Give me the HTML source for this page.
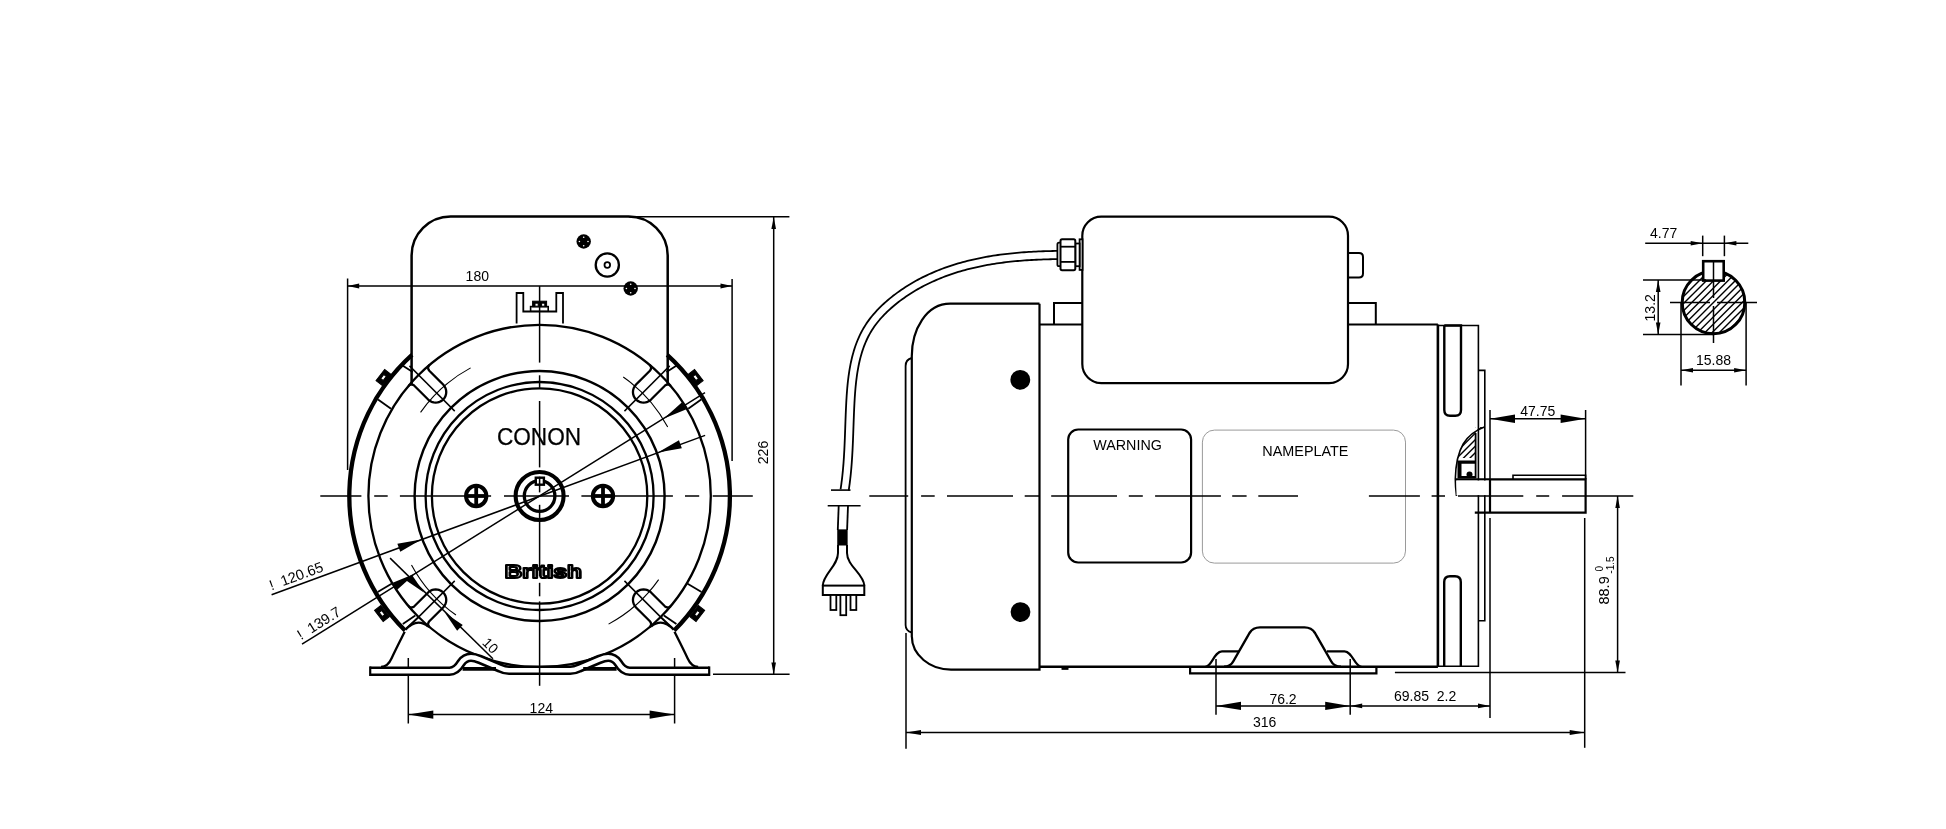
<!DOCTYPE html>
<html><head><meta charset="utf-8"><style>
html,body{margin:0;padding:0;background:#fff;}
svg{display:block;will-change:transform;}
text{font-family:"Liberation Sans",sans-serif;fill:#000;stroke:none;}
</style></head><body>
<svg width="1946" height="829" viewBox="0 0 1946 829" fill="none" stroke="#000" stroke-linecap="butt">
<path d="M411.6,384.5 V255.5 A39,39 0 0 1 450.6,216.6 H628.7 A39,39 0 0 1 667.7,255.5 V384.5" stroke-width="2.5" />
<line x1="628.7" y1="216.7" x2="789.4" y2="216.7" stroke-width="1.5" />
<circle cx="583.7" cy="241.5" r="7.2" stroke-width="0" fill="#000" stroke="none"/>
<circle cx="588" cy="241.5" r="0.8" fill="#fff" stroke="none"/>
<circle cx="579.4" cy="241.5" r="0.8" fill="#fff" stroke="none"/>
<circle cx="583.7" cy="245.8" r="0.8" fill="#fff" stroke="none"/>
<circle cx="583.7" cy="237.2" r="0.8" fill="#fff" stroke="none"/>
<circle cx="630.7" cy="288.5" r="7.2" stroke-width="0" fill="#000" stroke="none"/>
<circle cx="635" cy="288.5" r="0.8" fill="#fff" stroke="none"/>
<circle cx="626.4" cy="288.5" r="0.8" fill="#fff" stroke="none"/>
<circle cx="630.7" cy="292.8" r="0.8" fill="#fff" stroke="none"/>
<circle cx="630.7" cy="284.2" r="0.8" fill="#fff" stroke="none"/>
<circle cx="607.3" cy="265" r="11.6" stroke-width="2.3" fill="none" />
<circle cx="607.3" cy="265" r="2.8" stroke-width="1.8" fill="none" />
<path d="M516.6,323.5 V293 H523.3 V311.5 H556.3 V293 H563 V323.5" stroke-width="1.8" />
<rect x="530.6" y="306.6" width="17.6" height="4.6" fill="#fff" stroke="#000" stroke-width="1.6"/>
<rect x="532.6" y="301.2" width="14" height="5.6" fill="#000"/>
<rect x="535" y="303.2" width="3.2" height="3" fill="#fff"/>
<rect x="541.6" y="303.2" width="3.2" height="3" fill="#fff"/>
<circle cx="539.6" cy="496" r="107.7" stroke-width="2.3" fill="none" />
<circle cx="539.6" cy="496" r="114" stroke-width="2.3" fill="none" />
<circle cx="539.6" cy="496" r="125" stroke-width="2.4" fill="none" />
<circle cx="539.6" cy="496" r="171.2" stroke-width="2.3" fill="none" />
<path d="M649.62,364.83 L650.2,365.43 L650.64,366.13 L650.93,366.91 L651.05,367.72 L651,368.55 L650.78,369.35 L650.4,370.09 L649.88,370.73 L636.05,384.56 L634.73,386.17 L633.75,388 L633.15,389.99 L632.94,392.06 L633.15,394.12 L633.75,396.11 L634.73,397.94 L636.05,399.55 L637.66,400.87 L639.49,401.85 L641.48,402.45 L643.54,402.66 L645.61,402.45 L647.6,401.85 L649.43,400.87 L651.04,399.55 L664.87,385.72 L665.51,385.2 L666.25,384.82 L667.05,384.6 L667.88,384.55 L668.69,384.67 L669.47,384.96 L670.17,385.4 L670.77,385.98" stroke-width="2.3" stroke-linejoin="round"/>
<path d="M408.43,385.98 L409.03,385.4 L409.73,384.96 L410.51,384.67 L411.32,384.55 L412.15,384.6 L412.95,384.82 L413.69,385.2 L414.33,385.72 L428.16,399.55 L429.77,400.87 L431.6,401.85 L433.59,402.45 L435.66,402.66 L437.72,402.45 L439.71,401.85 L441.54,400.87 L443.15,399.55 L444.47,397.94 L445.45,396.11 L446.05,394.12 L446.26,392.06 L446.05,389.99 L445.45,388 L444.47,386.17 L443.15,384.56 L429.32,370.73 L428.8,370.09 L428.42,369.35 L428.2,368.55 L428.15,367.72 L428.27,366.91 L428.56,366.13 L429,365.43 L429.58,364.83" stroke-width="2.3" stroke-linejoin="round"/>
<path d="M429.58,627.17 L429,626.57 L428.56,625.87 L428.27,625.09 L428.15,624.28 L428.2,623.45 L428.42,622.65 L428.8,621.91 L429.32,621.27 L443.15,607.44 L444.47,605.83 L445.45,604 L446.05,602.01 L446.26,599.94 L446.05,597.88 L445.45,595.89 L444.47,594.06 L443.15,592.45 L441.54,591.13 L439.71,590.15 L437.72,589.55 L435.66,589.34 L433.59,589.55 L431.6,590.15 L429.77,591.13 L428.16,592.45 L414.33,606.28 L413.69,606.8 L412.95,607.18 L412.15,607.4 L411.32,607.45 L410.51,607.33 L409.73,607.04 L409.03,606.6 L408.43,606.02" stroke-width="2.3" stroke-linejoin="round"/>
<path d="M670.77,606.02 L670.17,606.6 L669.47,607.04 L668.69,607.33 L667.88,607.45 L667.05,607.4 L666.25,607.18 L665.51,606.8 L664.87,606.28 L651.04,592.45 L649.43,591.13 L647.6,590.15 L645.61,589.55 L643.54,589.34 L641.48,589.55 L639.49,590.15 L637.66,591.13 L636.05,592.45 L634.73,594.06 L633.75,595.89 L633.15,597.88 L632.94,599.94 L633.15,602.01 L633.75,604 L634.73,605.83 L636.05,607.44 L649.88,621.27 L650.4,621.91 L650.78,622.65 L651,623.45 L651.05,624.28 L650.93,625.09 L650.64,625.87 L650.2,626.57 L649.62,627.17" stroke-width="2.3" stroke-linejoin="round"/>
<line x1="624.45" y1="411.15" x2="669.71" y2="365.89" stroke-width="1.5" />
<path d="M667.71,427.02 A145.5,145.5 0 0 0 623.26,376.96" stroke-width="1.1" />
<line x1="454.75" y1="411.15" x2="409.49" y2="365.89" stroke-width="1.5" />
<path d="M470.62,367.89 A145.5,145.5 0 0 0 420.56,412.34" stroke-width="1.1" />
<line x1="454.75" y1="580.85" x2="409.49" y2="626.11" stroke-width="1.5" />
<path d="M411.49,564.98 A145.5,145.5 0 0 0 455.94,615.04" stroke-width="1.1" />
<line x1="624.45" y1="580.85" x2="669.71" y2="626.11" stroke-width="1.5" />
<path d="M608.58,624.11 A145.5,145.5 0 0 0 658.64,579.66" stroke-width="1.1" />
<path d="M412.02,354.8 A190.3,190.3 0 0 0 405.04,630.56" stroke-width="4.3" />
<path d="M674.16,630.56 A190.3,190.3 0 0 0 667.18,354.8" stroke-width="4.3" />
<line x1="401.7" y1="365.1" x2="412.7" y2="372" stroke-width="1.8" />
<line x1="677.5" y1="365.1" x2="666.5" y2="372" stroke-width="1.8" />
<line x1="378" y1="399.5" x2="391" y2="408.7" stroke-width="1.8" />
<line x1="701.2" y1="399.5" x2="688.2" y2="408.7" stroke-width="1.8" />
<line x1="377.7" y1="592" x2="392" y2="583.5" stroke-width="1.8" />
<line x1="701.5" y1="592" x2="687.2" y2="583.5" stroke-width="1.8" />
<line x1="402.8" y1="624.1" x2="415.3" y2="615.4" stroke-width="1.8" />
<line x1="676.4" y1="624.1" x2="663.9" y2="615.4" stroke-width="1.8" />
<line x1="405.7" y1="628.9" x2="418.2" y2="617.4" stroke-width="1.8" />
<line x1="673.5" y1="628.9" x2="661" y2="617.4" stroke-width="1.8" />
<g transform="translate(383.5,377.5) rotate(-52)"><rect x="-7" y="-4" width="14" height="8" fill="#000"/><rect x="-2.5" y="-1.6" width="5" height="3.2" fill="#fff"/></g>
<g transform="translate(382,613.5) rotate(52)"><rect x="-7" y="-4" width="14" height="8" fill="#000"/><rect x="-2.5" y="-1.6" width="5" height="3.2" fill="#fff"/></g>
<g transform="translate(695.7,377.5) rotate(52)"><rect x="-7" y="-4" width="14" height="8" fill="#000"/><rect x="-2.5" y="-1.6" width="5" height="3.2" fill="#fff"/></g>
<g transform="translate(697.2,613.5) rotate(-52)"><rect x="-7" y="-4" width="14" height="8" fill="#000"/><rect x="-2.5" y="-1.6" width="5" height="3.2" fill="#fff"/></g>
<circle cx="539.6" cy="496" r="24" stroke-width="4.1" fill="none" />
<circle cx="539.6" cy="496" r="15.3" stroke-width="3.3" fill="none" />
<rect x="535.8" y="477.7" width="8.1" height="7" fill="#fff" stroke="#000" stroke-width="2.4"/>
<circle cx="476.2" cy="496" r="10.2" stroke-width="4.0" fill="none" />
<line x1="465.7" y1="496" x2="486.7" y2="496" stroke-width="3.8" />
<line x1="476.2" y1="485.5" x2="476.2" y2="506.5" stroke-width="3.8" />
<circle cx="603" cy="496" r="10.2" stroke-width="4.0" fill="none" />
<line x1="592.5" y1="496" x2="613.5" y2="496" stroke-width="3.8" />
<line x1="603" y1="485.5" x2="603" y2="506.5" stroke-width="3.8" />
<text x="496.9" y="445.2" font-size="23.2" textLength="84.2" lengthAdjust="spacingAndGlyphs" style="stroke:#000;stroke-width:0.25">CONON</text>
<text x="504.8" y="577.6" font-size="18.5" font-weight="bold" textLength="77" lengthAdjust="spacingAndGlyphs" style="fill:#fff;stroke:#000;stroke-width:2.1;stroke-linejoin:round">British</text>
<line x1="408.3" y1="658" x2="408.3" y2="723.5" stroke-width="1.5" />
<line x1="674.6" y1="658" x2="674.6" y2="723.5" stroke-width="1.5" />
<path d="M404.7,631.8 C400.5,640 395,651 391.5,658.5 C389.5,663 386.5,666.8 381,666.8" stroke-width="2.3" />
<path d="M405.5,629.8 C409.5,625.5 413.5,622.6 418.5,622.6 C422.5,622.6 425.5,624.3 428.2,626.6" stroke-width="2.3" />
<path d="M674.5,631.8 C678.7,640 684.2,651 687.7,658.5 C689.7,663 692.7,666.8 698.2,666.8" stroke-width="2.3" />
<path d="M673.7,629.8 C669.7,625.5 665.7,622.6 660.7,622.6 C656.7,622.6 653.7,624.3 651,626.6" stroke-width="2.3" />
<path d="M370.2,671.2 H449.5 C455,671.2 458,668 461,663 C464,658.5 467,657.3 471,657.3 C474,657.3 477,658.3 480,659.5 L500,668 C503,669.5 505,670.3 509,670.3 H570.2 C574.2,670.3 576.2,669.5 579.2,668 L599.2,659.5 C602.2,658.3 605.2,657.3 608.2,657.3 C612.2,657.3 615.2,658.5 618.2,663 C621.2,668 624.2,671.2 629.7,671.2 H709.2" stroke-width="9.6" stroke-linejoin="round"/>
<path d="M370.2,671.2 H449.5 C455,671.2 458,668 461,663 C464,658.5 467,657.3 471,657.3 C474,657.3 477,658.3 480,659.5 L500,668 C503,669.5 505,670.3 509,670.3 H570.2 C574.2,670.3 576.2,669.5 579.2,668 L599.2,659.5 C602.2,658.3 605.2,657.3 608.2,657.3 C612.2,657.3 615.2,658.5 618.2,663 C621.2,668 624.2,671.2 629.7,671.2 H709.2" stroke-width="4.4" stroke="#fff" stroke-linejoin="round"/>
<line x1="370.2" y1="666.4" x2="370.2" y2="676" stroke-width="2.2" />
<line x1="709.2" y1="666.4" x2="709.2" y2="676" stroke-width="2.2" />
<line x1="462.6" y1="668.9" x2="496" y2="668.9" stroke-width="3.6" />
<line x1="583.2" y1="668.9" x2="616.6" y2="668.9" stroke-width="3.6" />
<line x1="320.3" y1="496" x2="361.4" y2="496" stroke-width="1.5" />
<line x1="374.2" y1="496" x2="387.7" y2="496" stroke-width="1.5" />
<line x1="399.9" y1="496" x2="491.1" y2="496" stroke-width="1.5" />
<line x1="504" y1="496" x2="569" y2="496" stroke-width="1.5" />
<line x1="581.4" y1="496" x2="672.9" y2="496" stroke-width="1.5" />
<line x1="685" y1="496" x2="699.2" y2="496" stroke-width="1.5" />
<line x1="712.7" y1="496" x2="752.8" y2="496" stroke-width="1.5" />
<line x1="539.6" y1="286.1" x2="539.6" y2="362.6" stroke-width="1.5" />
<line x1="539.6" y1="375.3" x2="539.6" y2="387.8" stroke-width="1.5" />
<line x1="539.6" y1="401" x2="539.6" y2="467.4" stroke-width="1.5" />
<line x1="539.6" y1="476.7" x2="539.6" y2="492.4" stroke-width="1.5" />
<line x1="539.6" y1="504.8" x2="539.6" y2="576" stroke-width="1.5" />
<line x1="539.6" y1="582.8" x2="539.6" y2="596.3" stroke-width="1.5" />
<line x1="539.6" y1="601.4" x2="539.6" y2="685.8" stroke-width="1.5" />
<line x1="347.6" y1="278.5" x2="347.6" y2="470" stroke-width="1.5" />
<line x1="732.1" y1="279" x2="732.1" y2="461" stroke-width="1.5" />
<line x1="347.6" y1="286.1" x2="732.1" y2="286.1" stroke-width="1.5" />
<path d="M347.6,286.1 L359.2,288.6 L359.2,283.6 Z" fill="#000" stroke="none"/>
<path d="M732.1,286.1 L720.5,283.6 L720.5,288.6 Z" fill="#000" stroke="none"/>
<text x="477.3" y="280.7" font-size="14" text-anchor="middle" >180</text>
<line x1="773.7" y1="216.9" x2="773.7" y2="674.5" stroke-width="1.5" />
<path d="M773.7,216.9 L771.4,228.9 L776,228.9 Z" fill="#000" stroke="none"/>
<path d="M773.7,674.5 L776,662.5 L771.4,662.5 Z" fill="#000" stroke="none"/>
<line x1="713" y1="674.3" x2="789.6" y2="674.3" stroke-width="1.5" />
<text x="768" y="452.5" font-size="14" text-anchor="middle" transform="rotate(-90 768 452.5)" >226</text>
<line x1="408.3" y1="714.6" x2="674.6" y2="714.6" stroke-width="1.5" />
<path d="M408.3,714.6 L433.3,718.8 L433.3,710.4 Z" fill="#000" stroke="none"/>
<path d="M674.6,714.6 L649.6,710.4 L649.6,718.8 Z" fill="#000" stroke="none"/>
<text x="541.3" y="712.5" font-size="14" text-anchor="middle" >124</text>
<line x1="271.6" y1="594.7" x2="705.1" y2="435.4" stroke-width="1.5" />
<line x1="302" y1="644.2" x2="705" y2="392.7" stroke-width="1.5" />
<path d="M421.33,539.46 L397.36,543.8 L400.25,551.68 Z" fill="#000" stroke="none"/>
<path d="M657.87,452.54 L681.84,448.2 L678.95,440.32 Z" fill="#000" stroke="none"/>
<path d="M415.32,573.56 L392.73,582.7 L397.18,589.83 Z" fill="#000" stroke="none"/>
<path d="M663.88,418.44 L686.47,409.3 L682.02,402.17 Z" fill="#000" stroke="none"/>
<text x="271.4" y="590.4" font-size="14.5" text-anchor="start" transform="rotate(-20.17707007142586 271.4 590.4)" >!&#160;&#160;120.65</text>
<text x="300.9" y="640.2" font-size="14.5" text-anchor="start" transform="rotate(-31.96702834634886 300.9 640.2)" >!&#160;&#160;139.7</text>
<line x1="390.1" y1="558.1" x2="492.9" y2="658.7" stroke-width="1.5" />
<path d="M423.9,592.5 L411.88,574.82 L406.22,580.48 Z" fill="#000" stroke="none"/>
<path d="M445.1,613.1 L457.12,630.78 L462.78,625.12 Z" fill="#000" stroke="none"/>
<text x="481.6" y="643.4" font-size="14" text-anchor="start" transform="rotate(45 481.6 643.4)" >10</text>
<path d="M1039.5,303.7 H950.2 C926,303.7 911.8,330 911.8,356 V636 C911.8,655 930,669.7 951,669.7 H1039.5 V303.7" stroke-width="2.2" />
<path d="M911.8,358 C907.5,359 905.6,362 905.6,366 V625 C905.6,629 907.5,631.5 911.8,632.5" stroke-width="1.8" />
<circle cx="1020.3" cy="379.8" r="9.9" stroke-width="0" fill="#000" stroke="none"/>
<circle cx="1020.5" cy="612.1" r="9.9" stroke-width="0" fill="#000" stroke="none"/>
<line x1="1039.5" y1="324.5" x2="1437.9" y2="324.5" stroke-width="2.2" />
<line x1="1039.5" y1="666.8" x2="1437.9" y2="666.8" stroke-width="2.4" />
<line x1="1437.9" y1="324.5" x2="1437.9" y2="666.8" stroke-width="2.6" />
<path d="M1054,324.5 V302.9 H1082.3" stroke-width="2" />
<path d="M1348,302.9 H1375.8 V324.5" stroke-width="2" />
<rect x="1082.3" y="216.7" width="265.7" height="166.4" rx="19" ry="19" fill="#fff" stroke-width="2.2"/>
<path d="M1348,253 H1359 Q1363,253 1363,257 V273.5 Q1363,277.5 1359,277.5 H1348" stroke-width="2" />
<rect x="1079.6" y="239.3" width="2.9" height="30.6" fill="#fff" stroke="#000" stroke-width="1.8"/>
<rect x="1075.3" y="243.5" width="4.3" height="22.7" fill="#fff" stroke="#000" stroke-width="1.8"/>
<rect x="1060.5" y="239.3" width="14.8" height="30.9" rx="1.6" fill="#fff" stroke="#000" stroke-width="2"/>
<line x1="1060.5" y1="246.7" x2="1075.3" y2="246.7" stroke-width="1.8" />
<line x1="1060.5" y1="261.9" x2="1075.3" y2="261.9" stroke-width="1.8" />
<path d="M1060.5,242.7 H1059 Q1057.4,242.7 1057.4,244.5 V264.4 Q1057.4,266.2 1059,266.2 H1060.5" stroke-width="1.8" />
<path d="M1057.36,250.93 L1055.00,250.96 L1052.63,251.00 L1050.26,251.05 L1047.88,251.10 L1045.51,251.17 L1043.13,251.25 L1040.75,251.34 L1038.37,251.43 L1035.98,251.54 L1033.60,251.66 L1031.22,251.79 L1028.83,251.93 L1026.45,252.09 L1024.06,252.25 L1021.68,252.43 L1019.29,252.63 L1016.91,252.83 L1014.52,253.05 L1012.14,253.29 L1009.76,253.54 L1007.38,253.80 L1005.00,254.08 L1002.63,254.38 L1000.25,254.69 L997.88,255.01 L995.51,255.36 L993.14,255.72 L990.78,256.10 L988.42,256.50 L986.06,256.91 L983.71,257.35 L981.36,257.80 L979.01,258.27 L976.67,258.76 L974.34,259.28 L972.00,259.81 L969.68,260.36 L967.36,260.94 L965.04,261.53 L962.73,262.15 L960.43,262.79 L958.13,263.45 L955.84,264.14 L953.55,264.85 L951.27,265.58 L949.00,266.34 L946.74,267.12 L944.48,267.92 L942.24,268.76 L940.00,269.61 L937.77,270.50 L935.54,271.41 L933.33,272.34 L931.12,273.30 L928.93,274.29 L926.74,275.31 L924.57,276.36 L922.40,277.43 L920.25,278.54 L918.10,279.67 L915.97,280.83 L913.84,282.02 L911.73,283.24 L909.64,284.49 L907.55,285.77 L905.49,287.09 L903.44,288.43 L901.40,289.80 L899.39,291.20 L897.39,292.63 L895.41,294.10 L893.45,295.59 L891.52,297.11 L889.60,298.67 L887.71,300.25 L885.84,301.87 L884.00,303.52 L882.19,305.21 L880.41,306.92 L878.66,308.67 L876.95,310.45 L875.28,312.27 L873.65,314.12 L872.07,316.00 L870.53,317.92 L869.04,319.87 L867.60,321.85 L866.22,323.87 L864.90,325.93 L863.63,328.01 L862.43,330.12 L861.29,332.25 L860.20,334.41 L859.17,336.59 L858.20,338.80 L857.27,341.02 L856.40,343.27 L855.57,345.53 L854.80,347.81 L854.06,350.11 L853.38,352.42 L852.73,354.75 L852.13,357.09 L851.56,359.44 L851.03,361.81 L850.54,364.18 L850.08,366.56 L849.66,368.96 L849.26,371.36 L848.90,373.76 L848.56,376.17 L848.25,378.59 L847.96,381.01 L847.70,383.43 L847.46,385.85 L847.24,388.28 L847.04,390.70 L846.85,393.12 L846.68,395.55 L846.53,397.96 L846.38,400.38 L846.25,402.78 L846.13,405.19 L846.01,407.58 L845.90,409.97 L845.80,412.36 L845.70,414.74 L845.61,417.11 L845.52,419.48 L845.44,421.84 L845.35,424.20 L845.27,426.55 L845.19,428.91 L845.10,431.25 L845.02,433.60 L844.93,435.94 L844.85,438.27 L844.75,440.61 L844.65,442.94 L844.55,445.27 L844.44,447.60 L844.33,449.93 L844.20,452.25 L844.07,454.57 L843.93,456.90 L843.78,459.22 L843.62,461.54 L843.45,463.86 L843.26,466.19 L843.06,468.51 L842.85,470.83 L842.62,473.16 L842.38,475.48 L842.12,477.81 L841.84,480.14 L841.54,482.47 L841.23,484.80 L840.90,487.14 L840.55,489.48" stroke-width="1.8" stroke-linejoin="round"/>
<path d="M1057.46,259.12 L1055.12,259.16 L1052.78,259.20 L1050.44,259.24 L1048.10,259.30 L1045.75,259.37 L1043.41,259.44 L1041.07,259.53 L1038.72,259.63 L1036.37,259.73 L1034.03,259.85 L1031.68,259.98 L1029.34,260.12 L1027.00,260.27 L1024.66,260.43 L1022.31,260.61 L1019.98,260.80 L1017.64,261.00 L1015.30,261.22 L1012.97,261.45 L1010.64,261.69 L1008.31,261.95 L1005.99,262.22 L1003.66,262.51 L1001.35,262.81 L999.03,263.13 L996.72,263.47 L994.41,263.82 L992.11,264.19 L989.81,264.58 L987.52,264.98 L985.23,265.40 L982.94,265.84 L980.67,266.30 L978.39,266.78 L976.13,267.28 L973.87,267.79 L971.61,268.33 L969.36,268.89 L967.12,269.46 L964.89,270.06 L962.66,270.68 L960.44,271.32 L958.23,271.98 L956.02,272.67 L953.83,273.37 L951.64,274.10 L949.46,274.86 L947.29,275.63 L945.12,276.43 L942.97,277.26 L940.83,278.10 L938.69,278.98 L936.57,279.88 L934.45,280.80 L932.34,281.75 L930.25,282.72 L928.16,283.73 L926.09,284.76 L924.03,285.81 L921.97,286.89 L919.93,288.01 L917.90,289.14 L915.89,290.31 L913.89,291.51 L911.90,292.73 L909.93,293.98 L907.97,295.26 L906.03,296.56 L904.12,297.90 L902.21,299.26 L900.33,300.65 L898.47,302.07 L896.64,303.52 L894.82,304.99 L893.03,306.49 L891.27,308.02 L889.53,309.58 L887.83,311.16 L886.15,312.77 L884.52,314.41 L882.93,316.07 L881.37,317.76 L879.86,319.47 L878.40,321.21 L876.98,322.97 L875.62,324.76 L874.31,326.57 L873.05,328.41 L871.85,330.27 L870.70,332.16 L869.61,334.08 L868.57,336.03 L867.57,338.00 L866.63,340.00 L865.73,342.03 L864.88,344.08 L864.07,346.16 L863.31,348.26 L862.58,350.38 L861.90,352.52 L861.26,354.69 L860.65,356.87 L860.08,359.07 L859.55,361.29 L859.05,363.53 L858.58,365.79 L858.15,368.06 L857.74,370.34 L857.36,372.63 L857.01,374.94 L856.69,377.26 L856.39,379.59 L856.11,381.93 L855.86,384.28 L855.62,386.63 L855.41,388.99 L855.21,391.35 L855.03,393.72 L854.86,396.10 L854.71,398.47 L854.57,400.84 L854.44,403.22 L854.32,405.59 L854.20,407.96 L854.10,410.33 L853.99,412.70 L853.90,415.06 L853.81,417.42 L853.72,419.78 L853.63,422.14 L853.55,424.49 L853.47,426.84 L853.38,429.19 L853.30,431.54 L853.22,433.89 L853.13,436.24 L853.04,438.59 L852.95,440.94 L852.85,443.29 L852.74,445.64 L852.63,447.99 L852.52,450.35 L852.39,452.70 L852.26,455.05 L852.12,457.41 L851.96,459.77 L851.80,462.13 L851.62,464.50 L851.43,466.86 L851.23,469.23 L851.01,471.61 L850.78,473.98 L850.53,476.36 L850.26,478.75 L849.98,481.14 L849.68,483.53 L849.35,485.93 L849.01,488.33 L848.65,490.74" stroke-width="1.8" stroke-linejoin="round"/>
<line x1="831" y1="490.1" x2="850.5" y2="490.1" stroke-width="1.6" />
<line x1="827.7" y1="505.7" x2="860.6" y2="505.7" stroke-width="1.6" />
<line x1="838.7" y1="505.7" x2="837.8" y2="530" stroke-width="1.8" />
<line x1="848" y1="505.7" x2="847.1" y2="530" stroke-width="1.8" />
<rect x="837.8" y="529.9" width="9.3" height="15.1" fill="#000"/>
<path d="M838,545 V553 C838,566 823,574 822.8,585.6 M847,545 V553 C847,566 864,574 864.3,585.6" stroke-width="2" />
<rect x="822.8" y="585.6" width="41.5" height="9.4" fill="#fff" stroke="#000" stroke-width="2"/>
<rect x="830.5" y="595" width="5.8" height="15" fill="#fff" stroke="#000" stroke-width="1.8"/>
<rect x="840.4" y="595" width="5.8" height="20.2" fill="#fff" stroke="#000" stroke-width="1.8"/>
<rect x="850.5" y="595" width="5.8" height="15" fill="#fff" stroke="#000" stroke-width="1.8"/>
<rect x="1068.2" y="429.5" width="122.9" height="133" rx="10" ry="10" fill="none" stroke-width="2.2"/>
<text x="1127.6" y="450" font-size="14.3" text-anchor="middle" >WARNING</text>
<rect x="1202.4" y="430.1" width="203.1" height="133" rx="12" ry="12" fill="none" stroke="#9a9a9a" stroke-width="1"/>
<text x="1305.4" y="455.9" font-size="14.4" text-anchor="middle" >NAMEPLATE</text>
<path d="M1437.9,325.5 H1478.4 V666.3 H1437.9" stroke-width="1.6" />
<path d="M1444.3,325.5 V410 Q1444.3,415.8 1450,415.8 H1455.3 Q1461,415.8 1461,410 V325.5 H1444.3" stroke-width="2.4" />
<path d="M1444.2,666.3 V582 Q1444.2,576.2 1450,576.2 H1455 Q1460.8,576.2 1460.8,582 V666.3" stroke-width="2.4" />
<path d="M1478.4,370.4 H1484.8 V620.8 H1478.4" stroke-width="1.6" />
<defs><clipPath id="capc"><path d="M1484.3,427 C1466,434 1456,448 1455.3,479 L1475.6,479 L1475.6,427 Z"/></clipPath></defs>
<g clip-path="url(#capc)"><line x1="1526" y1="415" x2="1466" y2="475" stroke-width="1.3"/><line x1="1519.5" y1="415" x2="1459.5" y2="475" stroke-width="1.3"/><line x1="1513" y1="415" x2="1453" y2="475" stroke-width="1.3"/><line x1="1506.5" y1="415" x2="1446.5" y2="475" stroke-width="1.3"/><line x1="1500" y1="415" x2="1440" y2="475" stroke-width="1.3"/><line x1="1493.5" y1="415" x2="1433.5" y2="475" stroke-width="1.3"/><line x1="1487" y1="415" x2="1427" y2="475" stroke-width="1.3"/><line x1="1480.5" y1="415" x2="1420.5" y2="475" stroke-width="1.3"/><line x1="1474" y1="415" x2="1414" y2="475" stroke-width="1.3"/><line x1="1467.5" y1="415" x2="1407.5" y2="475" stroke-width="1.3"/><line x1="1461" y1="415" x2="1401" y2="475" stroke-width="1.3"/><line x1="1454.5" y1="415" x2="1394.5" y2="475" stroke-width="1.3"/><line x1="1448" y1="415" x2="1388" y2="475" stroke-width="1.3"/><line x1="1441.5" y1="415" x2="1381.5" y2="475" stroke-width="1.3"/><line x1="1435" y1="415" x2="1375" y2="475" stroke-width="1.3"/><line x1="1428.5" y1="415" x2="1368.5" y2="475" stroke-width="1.3"/><rect x="1450" y="458" width="30" height="22" fill="#fff" stroke="none"/></g>
<path d="M1484.3,427 C1466,434 1456,448 1455.3,479 C1455.3,486 1456,492 1456.5,496" stroke-width="1.6" />
<line x1="1475.6" y1="433" x2="1475.6" y2="478.5" stroke-width="1.8" />
<path d="M1457.5,460.5 H1475 V463.8 H1461.5 V476 H1475 V478.5 H1457.5 Z" fill="#000" stroke="none"/>
<circle cx="1469.5" cy="474.5" r="3" fill="#000" stroke="none"/>
<path d="M1455.3,479.4 H1585.6 V512.7 H1474.8" stroke-width="2.2" />
<rect x="1456.5" y="480.6" width="32.5" height="14.6" fill="#fff" stroke="none"/>
<line x1="1490" y1="479.4" x2="1490" y2="512.7" stroke-width="2.2" />
<path d="M1513,479.4 V475.2 H1585.6 V479.4" stroke-width="1.6" />
<line x1="869.3" y1="496" x2="908.2" y2="496" stroke-width="1.5" />
<line x1="921.1" y1="496" x2="934.7" y2="496" stroke-width="1.5" />
<line x1="947" y1="496" x2="1013" y2="496" stroke-width="1.5" />
<line x1="1024.7" y1="496" x2="1039.2" y2="496" stroke-width="1.5" />
<line x1="1051.2" y1="496" x2="1117" y2="496" stroke-width="1.5" />
<line x1="1128.8" y1="496" x2="1142.8" y2="496" stroke-width="1.5" />
<line x1="1155.1" y1="496" x2="1220.9" y2="496" stroke-width="1.5" />
<line x1="1232.2" y1="496" x2="1246.6" y2="496" stroke-width="1.5" />
<line x1="1258.3" y1="496" x2="1298" y2="496" stroke-width="1.5" />
<line x1="1368.9" y1="496" x2="1419.9" y2="496" stroke-width="1.5" />
<line x1="1431.6" y1="496" x2="1445" y2="496" stroke-width="1.5" />
<line x1="1458" y1="496" x2="1523.3" y2="496" stroke-width="1.5" />
<line x1="1536.2" y1="496" x2="1549.2" y2="496" stroke-width="1.5" />
<line x1="1562.1" y1="496" x2="1633.3" y2="496" stroke-width="1.5" />
<path d="M1190.1,666.8 V673.3 H1376.4 V666.8" stroke-width="2.2" />
<path d="M1205.3,666.8 C1212,666.8 1214,651.4 1222,651.4 H1239.1" stroke-width="2.2" />
<path d="M1224,666.8 Q1230.5,666.8 1233.5,661 L1249.5,633 Q1253,627.4 1260,627.4 H1304.5 Q1311.5,627.4 1315,633 L1331,661 Q1334,666.8 1341,666.8" stroke-width="2.4" />
<path d="M1327,651.4 H1344.5 C1352.5,651.4 1354.5,666.8 1361.6,666.8" stroke-width="2.2" />
<rect x="1062" y="666.8" width="6" height="2.5" fill="#000"/>
<line x1="906" y1="633" x2="906" y2="748.8" stroke-width="1.5" />
<line x1="906" y1="732.6" x2="1584.7" y2="732.6" stroke-width="1.5" />
<path d="M906,732.6 L921,735.1 L921,730.1 Z" fill="#000" stroke="none"/>
<path d="M1584.7,732.6 L1569.7,730.1 L1569.7,735.1 Z" fill="#000" stroke="none"/>
<text x="1264.6" y="727.4" font-size="14" text-anchor="middle" >316</text>
<line x1="1216" y1="659" x2="1216" y2="714.7" stroke-width="1.5" />
<line x1="1350.2" y1="659" x2="1350.2" y2="714.7" stroke-width="1.5" />
<line x1="1216" y1="705.9" x2="1490" y2="705.9" stroke-width="1.5" />
<path d="M1216,705.9 L1241,710.1 L1241,701.7 Z" fill="#000" stroke="none"/>
<path d="M1350.2,705.9 L1325.2,701.7 L1325.2,710.1 Z" fill="#000" stroke="none"/>
<path d="M1350.2,705.9 L1362.2,708.2 L1362.2,703.6 Z" fill="#000" stroke="none"/>
<path d="M1490,705.9 L1478,703.6 L1478,708.2 Z" fill="#000" stroke="none"/>
<text x="1283" y="703.7" font-size="14" text-anchor="middle" >76.2</text>
<text x="1394" y="700.8" font-size="14" text-anchor="start" >69.85&#160;&#160;2.2</text>
<line x1="1490" y1="518" x2="1490" y2="718" stroke-width="1.5" />
<line x1="1584.7" y1="518" x2="1584.7" y2="747.8" stroke-width="1.5" />
<line x1="1394.9" y1="672.5" x2="1625.5" y2="672.5" stroke-width="1.5" />
<line x1="1617.6" y1="496" x2="1617.6" y2="672.5" stroke-width="1.5" />
<path d="M1617.6,496 L1615.3,508 L1619.9,508 Z" fill="#000" stroke="none"/>
<path d="M1617.6,672.5 L1619.9,660.5 L1615.3,660.5 Z" fill="#000" stroke="none"/>
<text x="1608.6" y="590.4" font-size="14.5" text-anchor="middle" transform="rotate(-90 1608.6 590.4)" >88.9</text>
<text x="1602.9" y="568.8" font-size="10" text-anchor="middle" transform="rotate(-90 1602.9 568.8)" >0</text>
<text x="1613.5" y="565" font-size="10" text-anchor="middle" transform="rotate(-90 1613.5 565)" >-1.5</text>
<line x1="1490" y1="410" x2="1490" y2="479" stroke-width="1.5" />
<line x1="1585.6" y1="410" x2="1585.6" y2="479" stroke-width="1.5" />
<line x1="1490" y1="418.7" x2="1585.6" y2="418.7" stroke-width="1.5" />
<path d="M1490,418.7 L1515,422.9 L1515,414.5 Z" fill="#000" stroke="none"/>
<path d="M1585.6,418.7 L1560.6,414.5 L1560.6,422.9 Z" fill="#000" stroke="none"/>
<text x="1537.8" y="416.4" font-size="14" text-anchor="middle" >47.75</text>
<defs><clipPath id="shc"><circle cx="1713.5" cy="302.4" r="31.5"/></clipPath></defs>
<g clip-path="url(#shc)"><line x1="1587.1" y1="342.4" x2="1667.1" y2="262.4" stroke-width="1.4"/><line x1="1594.3" y1="342.4" x2="1674.3" y2="262.4" stroke-width="1.4"/><line x1="1601.5" y1="342.4" x2="1681.5" y2="262.4" stroke-width="1.4"/><line x1="1608.7" y1="342.4" x2="1688.7" y2="262.4" stroke-width="1.4"/><line x1="1615.9" y1="342.4" x2="1695.9" y2="262.4" stroke-width="1.4"/><line x1="1623.1" y1="342.4" x2="1703.1" y2="262.4" stroke-width="1.4"/><line x1="1630.3" y1="342.4" x2="1710.3" y2="262.4" stroke-width="1.4"/><line x1="1637.5" y1="342.4" x2="1717.5" y2="262.4" stroke-width="1.4"/><line x1="1644.7" y1="342.4" x2="1724.7" y2="262.4" stroke-width="1.4"/><line x1="1651.9" y1="342.4" x2="1731.9" y2="262.4" stroke-width="1.4"/><line x1="1659.1" y1="342.4" x2="1739.1" y2="262.4" stroke-width="1.4"/><line x1="1666.3" y1="342.4" x2="1746.3" y2="262.4" stroke-width="1.4"/><line x1="1673.5" y1="342.4" x2="1753.5" y2="262.4" stroke-width="1.4"/><line x1="1680.7" y1="342.4" x2="1760.7" y2="262.4" stroke-width="1.4"/><line x1="1687.9" y1="342.4" x2="1767.9" y2="262.4" stroke-width="1.4"/><line x1="1695.1" y1="342.4" x2="1775.1" y2="262.4" stroke-width="1.4"/><line x1="1702.3" y1="342.4" x2="1782.3" y2="262.4" stroke-width="1.4"/><line x1="1709.5" y1="342.4" x2="1789.5" y2="262.4" stroke-width="1.4"/><line x1="1716.7" y1="342.4" x2="1796.7" y2="262.4" stroke-width="1.4"/><line x1="1723.9" y1="342.4" x2="1803.9" y2="262.4" stroke-width="1.4"/><line x1="1731.1" y1="342.4" x2="1811.1" y2="262.4" stroke-width="1.4"/><line x1="1738.3" y1="342.4" x2="1818.3" y2="262.4" stroke-width="1.4"/><line x1="1745.5" y1="342.4" x2="1825.5" y2="262.4" stroke-width="1.4"/><line x1="1752.7" y1="342.4" x2="1832.7" y2="262.4" stroke-width="1.4"/><line x1="1759.9" y1="342.4" x2="1839.9" y2="262.4" stroke-width="1.4"/></g>
<circle cx="1713.5" cy="302.4" r="31.3" stroke-width="3.0" fill="none" />
<rect x="1703.2" y="261.2" width="20.5" height="19.4" fill="#fff" stroke="#000" stroke-width="2.6"/>
<line x1="1670" y1="302.4" x2="1710" y2="302.4" stroke-width="1.5" />
<line x1="1717" y1="302.4" x2="1757" y2="302.4" stroke-width="1.5" />
<line x1="1713.5" y1="262" x2="1713.5" y2="298" stroke-width="1.5" />
<line x1="1713.5" y1="306" x2="1713.5" y2="343" stroke-width="1.5" />
<line x1="1643" y1="280.1" x2="1706" y2="280.1" stroke-width="1.5" />
<line x1="1643" y1="334.4" x2="1713" y2="334.4" stroke-width="1.5" />
<line x1="1658.2" y1="280.1" x2="1658.2" y2="334.4" stroke-width="1.5" />
<path d="M1658.2,280.1 L1655.9,292.1 L1660.5,292.1 Z" fill="#000" stroke="none"/>
<path d="M1658.2,334.4 L1660.5,322.4 L1655.9,322.4 Z" fill="#000" stroke="none"/>
<text x="1655.5" y="307.8" font-size="14" text-anchor="middle" transform="rotate(-90 1655.5 307.8)" >13.2</text>
<line x1="1681" y1="302" x2="1681" y2="385.4" stroke-width="1.5" />
<line x1="1746.1" y1="302" x2="1746.1" y2="385.4" stroke-width="1.5" />
<line x1="1681" y1="370.2" x2="1746.1" y2="370.2" stroke-width="1.5" />
<path d="M1681,370.2 L1693,372.5 L1693,367.9 Z" fill="#000" stroke="none"/>
<path d="M1746.1,370.2 L1734.1,367.9 L1734.1,372.5 Z" fill="#000" stroke="none"/>
<text x="1713.5" y="364.8" font-size="14" text-anchor="middle" >15.88</text>
<line x1="1702.7" y1="235.6" x2="1702.7" y2="256.2" stroke-width="1.5" />
<line x1="1724.4" y1="235.6" x2="1724.4" y2="256.2" stroke-width="1.5" />
<line x1="1645.2" y1="243.2" x2="1748.3" y2="243.2" stroke-width="1.5" />
<path d="M1702.7,243.2 L1690.7,240.9 L1690.7,245.5 Z" fill="#000" stroke="none"/>
<path d="M1724.4,243.2 L1736.4,245.5 L1736.4,240.9 Z" fill="#000" stroke="none"/>
<text x="1663.6" y="237.8" font-size="14" text-anchor="middle" >4.77</text>
</svg></body></html>
